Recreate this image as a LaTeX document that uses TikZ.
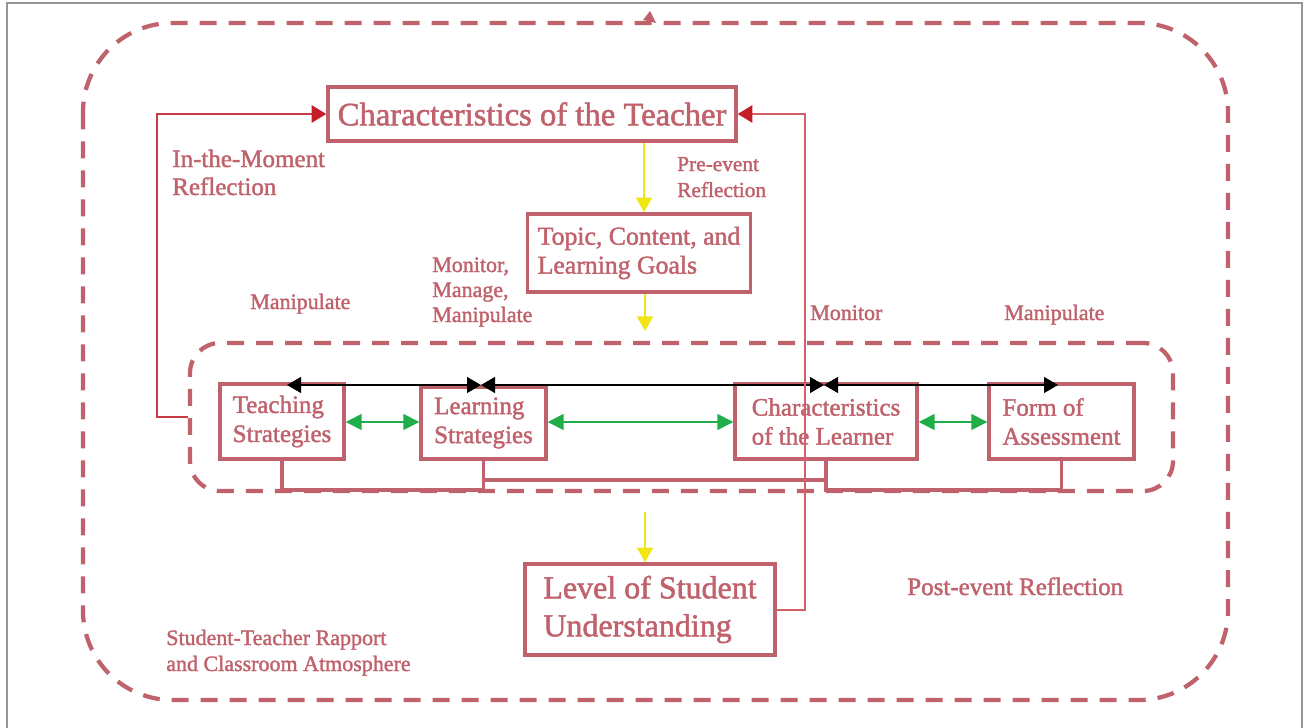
\documentclass[tikz,border=0pt]{standalone}
\usepackage{fontspec}
\setmainfont{Liberation Serif}[FakeBold=1.6]
\usetikzlibrary{arrows.meta,calc}
\definecolor{rose}{RGB}{192,98,108}
\definecolor{redtip}{RGB}{195,30,40}
\definecolor{redln}{RGB}{200,60,70}
\definecolor{pinkln}{RGB}{210,95,105}
\definecolor{yel}{RGB}{240,230,20}
\definecolor{grn}{RGB}{30,175,75}
\definecolor{framegray}{RGB}{150,150,150}
\newcommand{\fsz}[2]{\fontsize{#1}{#2}\selectfont}
\begin{document}
\begin{tikzpicture}[x=0.75pt,y=-0.75pt,
  box/.style={draw=rose,line width=2.6pt,text=rose,align=left,inner sep=0pt},
  lbl/.style={text=rose,align=left,anchor=base west,inner sep=0pt},
  conn/.style={draw=rose,line width=2.4pt},
  yarr/.style={draw=yel,line width=1.5pt,-{Triangle[width=12pt,length=11pt]}},
  garr/.style={draw=grn,line width=1.2pt,{Triangle[width=12pt,length=12pt]}-{Triangle[width=12pt,length=12pt]}},
  barr/.style={draw=black,line width=0.8pt,{Triangle[width=12pt,length=10.5pt]}-{Triangle[width=12pt,length=10.5pt]}},
  rarr/.style={line width=1.5pt,-{Triangle[width=13pt,length=11pt,color=redtip]}},
  dashbox/.style={draw=rose,line width=3.2pt,dash pattern=on 12.75pt off 9pt},
]
\useasboundingbox (0,0) rectangle (1307,728);
% frame
\draw[framegray,line width=1.2pt] (7,728) -- (7,3) -- (1302,3) -- (1302,728);
% outer dashed region
\draw[dashbox,rounded corners=67pt] (83,23) rectangle (1228,700);
\fill[rose] (643,20) -- (650,11) -- (656,23) -- cycle;
% inner dashed group
\node[dashbox,rounded corners=22.5pt,minimum width={983*0.75pt},minimum height={148*0.75pt},inner sep=0pt] (grp) at (681.5,417) {};

% boxes
\node[box,minimum width={408*0.75pt},minimum height={54*0.75pt},font=\fsz{24.5}{28}] (teacher) at (532,114) {Characteristics of the Teacher};
\node[box,minimum width={223*0.75pt},minimum height={78*0.75pt},font=\fsz{19.3}{21.75}] (topic) at (639,253) {Topic, Content, and\\Learning Goals};
\node[box,minimum width={124*0.75pt},minimum height={75*0.75pt},font=\fsz{18.75}{21.75}] (teach) at (282,421.5) {Teaching\\Strategies};
\node[box,minimum width={125*0.75pt},minimum height={72*0.75pt},font=\fsz{18.75}{21.75}] (learn) at (483.5,423) {Learning\\Strategies};
\node[box,minimum width={182*0.75pt},minimum height={75*0.75pt},font=\fsz{18.75}{21.75}] (learner) at (826,421.5) {Characteristics\\of the Learner};
\node[box,minimum width={145*0.75pt},minimum height={75*0.75pt},font=\fsz{18.75}{21.75}] (form) at (1061.5,421.5) {Form of\\Assessment};
\node[box,minimum width={250*0.75pt},minimum height={91*0.75pt},font=\fsz{24}{28.5}] (level) at (650,609.5) {Level of Student\\Understanding};

% labels (anchor = baseline of last line)
\node[lbl,font=\fsz{18.75}{21}] (lmoment) at (172,195) {In-the-Moment\\Reflection};
\node[lbl,font=\fsz{16}{19.5}] (lpre) at (677,197) {Pre-event\\Reflection};
\node[lbl,font=\fsz{16.5}{18.75}] (lmmm) at (432,322) {Monitor,\\Manage,\\Manipulate};
\node[lbl,font=\fsz{16.5}{18.75}] (lmanl) at (250,309) {Manipulate};
\node[lbl,font=\fsz{16.5}{18.75}] (lmon) at (810,320) {Monitor};
\node[lbl,font=\fsz{16.5}{18.75}] (lmanr) at (1004,320) {Manipulate};
\node[lbl,font=\fsz{18.75}{21}] (lpost) at (907,595) {Post-event Reflection};
\node[lbl,font=\fsz{16.5}{19.5}] (lrap) at (166,671) {Student-Teacher Rapport\\and Classroom Atmosphere};

% helper coordinates
\coordinate (ya) at (644,0);
\coordinate (yb) at (645,331);
\coordinate (yc) at (645,512);
\coordinate (bot) at (0,490);
\coordinate (mid) at (0,480);
\coordinate (gy) at (0,422);
\coordinate (b1) at (287,385);
\coordinate (b2) at (481,385);
\coordinate (b3) at (824,385);
\coordinate (b4) at (1058,385);
\coordinate (lk) at (157,417);
\coordinate (rk) at (805,610);

% yellow arrows
\draw[yarr] (teacher.south -| ya) -- (topic.north -| ya);
\draw[yarr] (topic.south -| yb) -- (yb);
\draw[yarr] (yc) -- (level.north -| yc);

% bottom connectors
\draw[conn] (teach.south) -- (teach.south |- bot) -- (learn.south |- bot) -- (learn.south);
\draw[conn] (learn.south |- mid) -- (learner.south |- mid);
\draw[conn] (learner.south) -- (learner.south |- bot) -- (form.south |- bot) -- (form.south);

% green arrows
\draw[garr] (teach.east |- gy) -- (learn.west |- gy);
\draw[garr] (learn.east |- gy) -- (learner.west |- gy);
\draw[garr] (learner.east |- gy) -- (form.west |- gy);

% black arrows
\draw[barr] (b1) -- (b2);
\draw[barr] (b2) -- (b3);
\draw[barr] (b3) -- (b4);

% red feedback arrows
\draw[rarr,draw=redln] (grp.west |- lk) -- (lk) |- (teacher.west);
\draw[rarr,draw=pinkln] (level.east |- rk) -- (rk) |- (teacher.east);
\end{tikzpicture}
\end{document}
